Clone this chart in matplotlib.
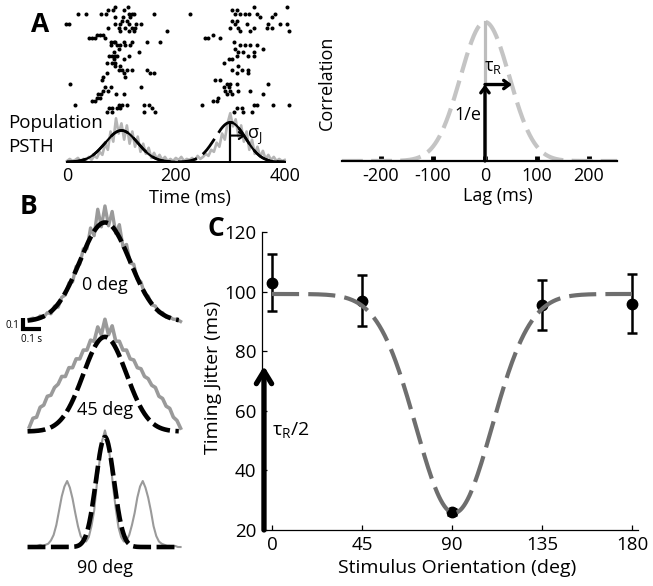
import numpy as np
import matplotlib
matplotlib.use("Agg")
import matplotlib.pyplot as plt

plt.rcParams["font.family"] = ["Open Sans", "DejaVu Sans"]
plt.rcParams["mathtext.fontset"] = "custom"
plt.rcParams["mathtext.rm"] = "Open Sans"
plt.rcParams["mathtext.it"] = "Open Sans:italic"

W, H = 653, 586

# ---- panel A: raster (time ms, trial row) ----
spike_times = [
    89, 112, 76, 84, 104, 20, 35, 63, 72, 113, 119, 124, 159, 89, 103, 116, 101, 111,
    -2, 4, 89, 98, 113, 127, 136, 75, 95, 107, 119, 125, 97, 113, 124, 184, 55, 61, 67,
    40, 46, 51, 69, 80, 86, 89, 104, 119, 147, 170, 81, 92, 98, 107, 115, 95, 86, 132,
    83, 89, 113, 77, 86, 92, 104, 73, 83, 89, 89, 98, 95, 110, 119, 147, 101, 104, 153,
    159, 73, 67, 107, 64, 6, 70, 81, 136, 67, 76, 57, 63, 90, 104, 55, 61, 46, 51, 14,
    95, 101, 110, 141, 150, 77, 83, 92, 98, 156, 73, 83, 141, 161,
    226, 343, 405, 303, 312, 309, 318, 327, 335, 349, 382, 355, 376, 303, 312, 309, 330,
    370, 392, 405, 300, 315, 343, 367, 376, 318, 336, 408, 269, 254, 260, 281, 306, 318,
    327, 336, 349, 309, 361, 315, 324, 343, 312, 333, 343, 297, 303, 288, 315, 321, 333,
    303, 312, 333, 272, 281, 294, 300, 312, 370, 288, 297, 291, 300, 315, 336, 294, 303,
    361, 278, 269, 275, 248, 343, 349, 379, 408, 312, 321, 306, 324, 340,
]
spike_trials = [
    2, 2, 3, 3, 3, 4, 4, 4, 4, 4, 4, 4, 4, 5, 5, 5, 6, 6,
    7, 7, 7, 7, 7, 7, 7, 8, 8, 8, 8, 8, 9, 9, 9, 9, 10, 10, 10,
    11, 11, 11, 11, 12, 12, 12, 12, 12, 12, 12, 13, 13, 13, 13, 13, 14, 15, 15,
    16, 16, 16, 16, 17, 16, 17, 18, 18, 18, 19, 19, 20, 20, 20, 20, 20, 21, 21,
    21, 21, 22, 22, 23, 24, 25, 25, 25, 26, 26, 27, 27, 27, 27, 28, 28, 29, 29, 30,
    30, 30, 30, 30, 30, 31, 31, 31, 31, 31, 32, 32, 32, 32,
    4, 2, 2, 3, 3, 4, 4, 4, 4, 4, 4, 5, 5, 6, 6, 7, 7,
    7, 7, 7, 8, 8, 8, 8, 8, 9, 9, 9, 10, 11, 11, 11, 12, 13,
    13, 13, 13, 14, 14, 15, 15, 15, 16, 16, 16, 17, 17, 18, 19, 20, 20,
    20, 21, 21, 23, 23, 24, 24, 24, 24, 25, 25, 26, 26, 26, 26, 27, 27,
    27, 28, 29, 29, 30, 30, 30, 30, 30, 31, 31, 32, 32, 32,
]

# population PSTH (arbitrary units), 5 ms bins from 0 to 400 ms
psth_time = list(range(0, 405, 5))
psth_rate = [
    1, 3, 1, 2, 4, 1, 3, 2, 5, 2, 6, 4, 10, 7, 18, 12, 30, 20, 43, 28,
    38, 22, 36, 18, 30, 15, 25, 10, 18, 8, 14, 4, 9, 3, 7, 2, 5, 1, 3, 1,
    4, 2, 5, 1, 3, 2, 4, 1, 6, 3, 5, 8, 6, 12, 10, 19, 15, 28, 22, 38,
    48, 35, 42, 25, 36, 20, 30, 12, 22, 8, 15, 5, 11, 3, 7, 2, 5, 1, 3, 1, 2,
]
# gaussian fits to the two volleys: centre, sigma, amplitude
burst_center = [100, 300]
burst_sigma = [30, 28]
burst_amp = [31, 39]

# ---- panel A right: correlation vs lag ----
corr_sigma = 47
tau_r = 52
tau_level = 0.55

# ---- panel B: correlation traces for three orientations ----
trace_x = [round(-0.42 + 0.02 * i, 2) for i in range(43)]
trace_0deg = [
    0.02, 0.03, 0.02, 0.05, 0.04, 0.08, 0.07, 0.14, 0.13, 0.22, 0.24, 0.35, 0.36, 0.50,
    0.52, 0.66, 0.66, 0.85, 0.78, 1.02, 0.86, 1.05, 0.87, 1.00, 0.80, 0.88, 0.68, 0.70,
    0.53, 0.52, 0.38, 0.36, 0.25, 0.23, 0.15, 0.14, 0.08, 0.08, 0.04, 0.04, 0.02, 0.02, 0.00,
]
trace_45deg = [
    0.04, 0.12, 0.13, 0.22, 0.24, 0.32, 0.33, 0.40, 0.43, 0.50, 0.50, 0.58, 0.58, 0.66,
    0.66, 0.74, 0.74, 0.83, 0.82, 0.95, 0.88, 1.02, 0.88, 0.96, 0.82, 0.82, 0.74, 0.74,
    0.66, 0.65, 0.58, 0.57, 0.50, 0.48, 0.42, 0.40, 0.32, 0.30, 0.23, 0.21, 0.13, 0.10, 0.03,
]
trace_x90 = [round(-0.42 + 0.015 * i, 3) for i in range(57)]
trace_90deg = [
    0.00, 0.01, 0.00, 0.01, 0.02, 0.01, 0.02, 0.03, 0.06, 0.11, 0.20, 0.33, 0.46, 0.55,
    0.60, 0.54, 0.44, 0.31, 0.19, 0.10, 0.06, 0.05, 0.09, 0.19, 0.33, 0.57, 0.78, 0.97,
    1.06, 0.96, 0.79, 0.55, 0.35, 0.18, 0.09, 0.05, 0.06, 0.11, 0.20, 0.31, 0.45, 0.55,
    0.60, 0.54, 0.45, 0.33, 0.19, 0.10, 0.05, 0.03, 0.02, 0.01, 0.01, 0.00, 0.01, 0.00, 0.00,
]
trace_offset = [2.05, 1.05, 0.0]
trace_width = [2.4, 2.6, 1.5]
fit_amp = [0.90, 0.86, 1.00]
fit_sigma = [0.14, 0.12, 0.05]
trace_names = ["0 deg", "45 deg", "90 deg"]

# ---- panel C: timing jitter vs orientation ----
orientation = [0, 45, 90, 135, 180]
jitter = [103, 97, 26, 95.5, 96]
jitter_err = [9.5, 8.5, 1, 8.5, 9.8]
fit_base, fit_depth, fit_center, fit_width = 99.2, 73.5, 91, 19
tau_half = 75


def box(x0, y0, x1, y1):
    return [x0 / W, 1 - y1 / H, (x1 - x0) / W, (y1 - y0) / H]


def ftext(x, y, s, **kw):
    fig.text(x / W, 1 - y / H, s, **kw)


def gauss(x, amp, mu, sig):
    return amp * np.exp(-((np.asarray(x) - mu) ** 2) / (2 * sig ** 2))


fig = plt.figure(figsize=(W / 100, H / 100), dpi=100, facecolor="white")

# raster
ax_r = fig.add_axes(box(60, 2, 295, 114))
ax_r.plot(spike_times, spike_trials, "o", color="black", markersize=2.9, markeredgewidth=0)
ax_r.set_xlim(-12.9, 419)
ax_r.set_ylim(32.6, 0.57)
ax_r.axis("off")

# PSTH
ax_p = fig.add_axes(box(60, 100, 295, 163))
ax_p.patch.set_alpha(0)
ax_p.plot(psth_time, psth_rate, color="#b5b5b5", lw=1.9)
tt = np.linspace(0, 400, 801)
model = gauss(tt, burst_amp[0], burst_center[0], burst_sigma[0]) + gauss(
    tt, burst_amp[1], burst_center[1], burst_sigma[1])
ax_p.plot([12, 400], [0, 0], color="black", lw=1.4)
ax_p.plot(tt, model, color="black", lw=2.0, linestyle=(0, (7, 2.6)))
left = tt <= 200
ax_p.plot(tt[left], gauss(tt[left], burst_amp[0], burst_center[0], burst_sigma[0]),
          color="black", lw=1.6)
right = tt >= burst_center[1]
ax_p.plot(tt[right], gauss(tt[right], burst_amp[1], burst_center[1], burst_sigma[1]),
          color="black", lw=1.6)
ax_p.plot([burst_center[1]] * 2, [0, burst_amp[1]], color="black", lw=1.6)
ax_p.annotate("", xy=(burst_center[1] + burst_sigma[1], 26), xytext=(burst_center[1], 26),
              arrowprops=dict(arrowstyle="->,head_length=0.35,head_width=0.25", lw=1.5,
                              color="black", shrinkA=0, shrinkB=0))
ax_p.set_xlim(-12.9, 419)
ax_p.set_ylim(-1, 61)
for s in ax_p.spines.values():
    s.set_visible(False)
ax_p.set_yticks([])
ax_p.set_xticks([0, 200, 400])
ax_p.tick_params(axis="x", length=0, labelsize=13, pad=3)

ftext(8, 123, "Population", fontsize=13.5, va="center", ha="left")
ftext(8, 147, "PSTH", fontsize=13.5, va="center", ha="left")
ftext(190, 198, "Time (ms)", fontsize=13, va="center", ha="center")
ftext(247, 137, "σ$_\\mathrm{J}$", fontsize=13, va="center", ha="left")
ftext(40, 24, "A", fontsize=19, fontweight="bold", va="center", ha="center")

# correlation
ax_c1 = fig.add_axes(box(342, 15, 617, 161))
ax_c1.patch.set_alpha(0)
lags = np.linspace(-275, 254, 600)
ax_c1.plot(lags, gauss(lags, 1.0, 0, corr_sigma), color="#c4c4c4", lw=3.0,
           linestyle=(0, (5, 2)))
ax_c1.plot([0, 0], [0, 1.0], color="#bdbdbd", lw=2.3)
ax_c1.annotate("", xy=(0, tau_level), xytext=(0, 0),
               arrowprops=dict(arrowstyle="->,head_length=0.4,head_width=0.3", lw=2.4,
                               color="black", shrinkA=0, shrinkB=0))
ax_c1.annotate("", xy=(tau_r, tau_level), xytext=(0, tau_level),
               arrowprops=dict(arrowstyle="->,head_length=0.4,head_width=0.3", lw=2.4,
                               color="black", shrinkA=0, shrinkB=0))
ax_c1.set_xlim(-275, 254)
ax_c1.set_ylim(0, 1.05)
for k in ["left", "top", "right"]:
    ax_c1.spines[k].set_visible(False)
ax_c1.spines["bottom"].set_linewidth(1.6)
ax_c1.set_yticks([])
ax_c1.set_xticks([-200, -100, 0, 100, 200])
ax_c1.set_xticklabels(["-200", "-100", "0", "100", "200"])
ax_c1.tick_params(axis="x", direction="in", length=3.5, width=3.5, labelsize=13, pad=4)
ftext(327, 83, "Correlation", fontsize=13, rotation=90, va="center", ha="center")
ftext(498, 196, "Lag (ms)", fontsize=13, va="center", ha="center")
ftext(493, 67, "τ$_\\mathrm{R}$", fontsize=13, va="center", ha="center")
ftext(468, 115, "1/e", fontsize=13, va="center", ha="center")

# panel B
ax_b = fig.add_axes(box(0, 190, 200, 560))
ax_b.set_xlim(-0.583, 0.528)
ax_b.set_ylim(-0.118, 3.245)
ax_b.axis("off")
gray_traces = [(trace_x, trace_0deg), (trace_x, trace_45deg), (trace_x90, trace_90deg)]
xs = np.linspace(-0.43, 0.41, 400)
for (gx, gy), off, lw, amp, sig in zip(gray_traces, trace_offset, trace_width, fit_amp, fit_sigma):
    ax_b.plot(gx, np.asarray(gy) + off, color="#9a9a9a", lw=lw)
    ax_b.plot(xs, gauss(xs, amp, 0, sig) + off, color="black", lw=3.3,
              linestyle=(0, (3.9, 1.2)))
ax_b.plot([-0.455, -0.455, -0.355], [2.08, 1.98, 1.98], color="black", lw=3,
          solid_joinstyle="miter", solid_capstyle="butt")
ftext(12, 325, "0.1", fontsize=7, va="center", ha="center")
ftext(32, 340, "0.1 s", fontsize=7, va="center", ha="center")
for name, py in zip(trace_names, [285, 410, 568]):
    ftext(105, py, name, fontsize=13, va="center", ha="center")
ftext(28, 206, "B", fontsize=19, fontweight="bold", va="center", ha="center")

# panel C
ax = fig.add_axes(box(262, 232, 638, 530))
ax.patch.set_alpha(0)
oo = np.linspace(0, 180, 400)
ax.plot(oo, fit_base - gauss(oo, fit_depth, fit_center, fit_width), color="#6e6e6e",
        lw=3.0, linestyle=(0, (6.5, 2.2)), zorder=3)
ax.errorbar(orientation, jitter, yerr=jitter_err, fmt="o", color="black", markersize=7.5,
            elinewidth=1.8, capsize=3.5, capthick=1.8, zorder=2)
ax.annotate("", xy=(-4, tau_half), xytext=(-4, 20),
            arrowprops=dict(arrowstyle="->,head_length=0.9,head_width=0.55", lw=3.8,
                            color="black", shrinkA=0, shrinkB=0))
ax.set_xlim(-5, 183)
ax.set_ylim(20, 120)
ax.set_xticks([0, 45, 90, 135, 180])
ax.set_yticks([20, 40, 60, 80, 100, 120])
for k in ["top", "right"]:
    ax.spines[k].set_visible(False)
for k in ["left", "bottom"]:
    ax.spines[k].set_linewidth(0.9)
ax.tick_params(direction="in", length=3.5, width=0.9, labelsize=13.5, pad=4)
ftext(213, 377, "Timing Jitter (ms)", fontsize=14, rotation=90, va="center", ha="center")
ftext(457, 568, "Stimulus Orientation (deg)", fontsize=14, va="center", ha="center")
ftext(272, 430, "τ$_\\mathrm{R}$/2", fontsize=14, va="center", ha="left")
ftext(216, 229, "C", fontsize=19, fontweight="bold", va="center", ha="center")

fig.savefig("out.png", dpi=100, facecolor="white")
